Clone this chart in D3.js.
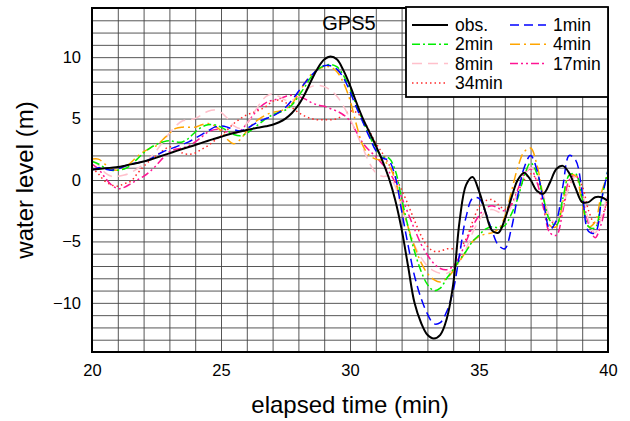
<!DOCTYPE html>
<html>
<head>
<meta charset="utf-8">
<script src="https://cdn.jsdelivr.net/npm/d3@7"></script>
<style>
  body { margin: 0; background: #fff; }
  svg text { font-family: "Liberation Sans", Arial, Helvetica, sans-serif; }
</style>
</head>
<body>
<svg id="chart" width="630" height="421"></svg>
<script>
// time grid (min), one value every 0.25 min from 20 to 40
var times = d3.range(20, 40.001, 0.25);

var obs = [
  0.85, 0.9, 0.95, 1.0, 1.05, 1.15, 1.27, 1.38, 1.5, 1.65, 1.82, 2.0, 2.17, 2.35, 2.52, 2.68,
  2.85, 3.02, 3.2, 3.36, 3.52, 3.68, 3.82, 3.95, 4.07, 4.18, 4.28, 4.38, 4.5, 4.7, 5.0, 5.45,
  6.1, 7.0, 8.1, 9.1, 9.8, 10.05, 9.8, 8.9, 7.7, 6.3, 5.0, 3.9, 2.8, 1.6, 0.2, -1.6,
  -4.0, -7.0, -10.0, -11.6, -12.6, -12.9, -12.6, -11.3, -8.5, -3.3, -0.4, 0.25, -0.9, -2.6,
  -4.1, -4.3, -3.2, -1.5, 0.0, 0.6, 0.0, -0.9, -1.1, -0.2, 0.9, 1.15, 0.55, -0.7, -1.8, -1.8,
  -1.4, -1.4, -1.7
];
var min1 = [
  0.8, 1.0, 0.9, 0.8, 0.9, 1.1, 1.3, 1.4, 1.5, 1.7, 2.0, 2.3, 2.5, 2.7, 2.9, 3.1,
  3.4, 3.7, 4.0, 4.3, 4.4, 4.3, 4.1, 4.0, 4.2, 4.5, 4.8, 5.0, 5.2, 5.5, 5.9, 6.5,
  7.2, 7.9, 8.5, 9.0, 9.3, 9.3, 9.0, 8.3, 7.2, 5.9, 4.7, 3.5, 2.4, 1.8, 1.6, 0.3,
  -2.5, -5.3, -7.8, -9.6, -10.9, -11.7, -11.6, -10.7, -9.0, -6.0, -3.0, -1.5, -1.5, -2.6,
  -4.1, -5.3, -5.6, -4.0, -1.3, 1.0, 2.0, 0.8, -1.8, -4.0, -3.3, -0.5, 2.0, 1.6, -1.0, -4.2,
  -4.3, -1.6, 0.8
];
var min2 = [
  1.5, 1.3, 1.0, 0.8, 0.8, 0.9, 1.2, 1.7, 2.2, 2.6, 2.9, 3.1, 3.2, 3.1, 3.1, 3.4,
  3.9, 4.3, 4.5, 4.5, 4.3, 4.0, 3.7, 3.6, 3.8, 4.2, 4.6, 5.0, 5.3, 5.5, 5.7, 6.1,
  6.8, 7.6, 8.4, 9.0, 9.3, 9.4, 9.2, 8.5, 7.4, 6.1, 4.8, 3.6, 2.6, 1.9, 1.8, 0.8,
  -1.5, -3.8, -5.8, -7.4, -8.5, -9.0, -8.8, -8.0, -7.3, -6.5, -5.8, -5.0, -4.5, -4.0,
  -3.8, -3.9, -3.7, -2.8, -1.5, 0.3, 1.4, 0.5, -1.5, -3.3, -3.7, -1.5, 0.4, 0.5, -1.5, -3.8,
  -3.9, -1.5, 0.8
];
var min4 = [
  1.7, 1.7, 1.3, 0.9, 0.8, 1.0, 1.4, 1.9, 2.3, 2.6, 2.8, 3.3, 3.8, 4.2, 4.3, 4.3,
  4.3, 4.5, 4.6, 4.4, 4.0, 3.3, 2.95, 3.3, 4.0, 4.6, 5.0, 5.3, 5.5, 5.6, 5.8, 6.2,
  7.0, 7.9, 8.6, 9.0, 9.2, 9.2, 8.8, 7.9, 6.5, 4.5, 2.8, 2.0, 1.7, 1.6, 1.2, 0.0,
  -2.0, -3.8, -5.4, -6.7, -7.6, -8.1, -8.3, -8.0, -7.4, -6.6, -5.8, -5.0, -4.6, -4.4,
  -4.3, -4.0, -3.0, -1.0, 1.0, 2.3, 2.6, 1.2, -1.5, -3.7, -3.8, -1.8, 0.4, 0.3, -2.0, -3.8,
  -3.4, -1.0, 0.5
];
var min8 = [
  1.6, 1.2, 0.6, 0.3, 0.3, 0.4, 0.6, 0.9, 1.3, 1.8, 2.4, 3.1, 3.8, 4.4, 4.8, 4.9,
  5.0, 5.3, 5.6, 5.7, 5.5, 5.0, 4.4, 4.2, 4.6, 5.4, 6.2, 6.8, 7.0, 6.8, 6.5, 6.5,
  6.8, 7.3, 7.6, 7.7, 7.6, 7.3, 6.8, 6.0, 5.0, 3.8, 2.6, 1.4, 0.6, 0.3, 0.3, -0.5,
  -2.2, -3.9, -5.3, -6.3, -7.0, -7.4, -7.6, -7.6, -7.3, -6.6, -5.6, -4.3, -3.3, -2.6,
  -2.4, -2.6, -2.8, -2.2, -1.0, 0.3, 1.0, 0.5, -1.2, -3.0, -3.5, -2.2, -0.5, 0.3, -1.0, -3.3,
  -4.3, -3.0, -1.0
];
var min17 = [
  1.3, 0.9, 0.2, -0.4, -0.7, -0.6, -0.3, 0.0, 0.3, 0.7, 1.2, 1.8, 2.3, 2.5, 2.6, 2.8,
  3.1, 3.5, 3.9, 4.1, 4.1, 3.9, 3.8, 4.0, 4.6, 5.3, 5.9, 6.3, 6.5, 6.6, 6.8, 6.9,
  6.8, 6.6, 6.3, 6.1, 6.0, 5.8, 5.6, 5.3, 4.8, 3.9, 3.0, 2.4, 1.9, 1.3, 0.7, -0.2,
  -1.4, -2.7, -4.0, -5.2, -6.1, -6.8, -7.2, -7.3, -7.0, -6.2, -5.0, -3.8, -2.9, -2.3,
  -2.1, -2.3, -2.5, -2.0, -0.8, 0.5, 0.9, -0.2, -2.3, -4.3, -4.5, -2.5, 0.0, 0.4, -1.2, -3.6,
  -4.7, -3.5, -1.2
];
var min34 = [
  1.0, 0.5, -0.1, -0.4, -0.5, -0.3, -0.1, 0.5, 1.1, 1.6, 2.0, 2.4, 2.7, 2.6, 2.2, 2.1,
  2.2, 2.5, 2.8, 3.2, 3.6, 4.1, 4.6, 5.0, 5.3, 5.5, 5.7, 6.0, 6.4, 6.5, 6.3, 5.9,
  5.5, 5.2, 5.0, 4.9, 4.9, 4.9, 5.0, 5.3, 5.6, 5.5, 4.9, 4.0, 3.0, 2.2, 1.3, 0.3,
  -0.8, -2.0, -3.3, -4.5, -5.4, -5.8, -5.8, -5.6, -5.6, -5.5, -4.8, -3.4, -2.2, -1.7,
  -1.6, -2.0, -2.4, -2.0, -1.0, 0.0, 0.5, 0.0, -1.5, -3.2, -3.6, -2.3, -0.5, 0.3, -0.5, -2.5,
  -3.6, -3.0, -1.5
];

var xTicks = [20, 25, 30, 35, 40];
var yTicks = [-10, -5, 0, 5, 10];

var series = [
  { name: "obs.",  values: obs,   color: "#000000", dash: null,            width: 2 },
  { name: "1min",  values: min1,  color: "#0000ff", dash: "9,5",           width: 1.5 },
  { name: "2min",  values: min2,  color: "#00ee00", dash: "8,3,2,3",       width: 1.5 },
  { name: "4min",  values: min4,  color: "#ffa500", dash: "10,4,2,4",      width: 1.5 },
  { name: "8min",  values: min8,  color: "#ffc0cb", dash: "10,6",          width: 1.5 },
  { name: "17min", values: min17, color: "#ff1493", dash: "8,3,2,3,2,3",   width: 1.5 },
  { name: "34min", values: min34, color: "#ff2a2a", dash: "1.5,3",         width: 1.5 }
];

var svg = d3.select("#chart");

var margin = { top: 8, right: 22, bottom: 69, left: 92 };
var width = 630 - margin.left - margin.right;
var height = 421 - margin.top - margin.bottom;

var x = d3.scaleLinear().domain([20, 40]).range([0, width]);
var y = d3.scaleLinear().domain([-14, 14]).range([height, 0]);

var plot = svg.append("g")
  .attr("transform", "translate(" + margin.left + "," + margin.top + ")");

plot.append("clipPath").attr("id", "clip")
  .append("rect").attr("width", width).attr("height", height);

// grid, one line per minute and per metre
var xGrid = d3.axisBottom(x).tickValues(d3.range(21, 40)).tickSize(-height).tickFormat("");
var yGrid = d3.axisLeft(y).tickValues(d3.range(-13, 14)).tickSize(-width).tickFormat("");

plot.append("g").attr("class", "grid")
  .attr("transform", "translate(0," + height + ")")
  .call(xGrid);
plot.append("g").attr("class", "grid").call(yGrid);
plot.selectAll(".grid .domain").remove();
plot.selectAll(".grid line").attr("stroke", "#444").attr("stroke-width", 0.9);

// lines
var line = d3.line()
  .x((d, i) => x(times[i]))
  .y((d) => y(d))
  .curve(d3.curveCatmullRom.alpha(0.5));

var lines = plot.append("g").attr("clip-path", "url(#clip)");
series.slice().reverse().forEach((s) => {
  lines.append("path")
    .datum(s.values)
    .attr("d", line)
    .attr("fill", "none")
    .attr("stroke", s.color)
    .attr("stroke-width", s.width)
    .attr("stroke-dasharray", s.dash)
    .attr("stroke-linejoin", "round");
});

// axes
var xAxis = d3.axisBottom(x).tickValues(xTicks).tickSize(0).tickPadding(12);
var yAxis = d3.axisLeft(y).tickValues(yTicks).tickSize(0).tickPadding(11)
  .tickFormat((d) => d < 0 ? "\u2212" + Math.abs(d) : d);

var xg = plot.append("g").attr("transform", "translate(0," + height + ")").call(xAxis);
var yg = plot.append("g").call(yAxis);
xg.select(".domain").remove();
yg.select(".domain").remove();
xg.selectAll("text").style("font-size", "16.5px").attr("fill", "#000")
  .style("font-family", "'Liberation Sans', Arial, sans-serif");
yg.selectAll("text").style("font-size", "16.5px").attr("fill", "#000")
  .style("font-family", "'Liberation Sans', Arial, sans-serif");

plot.append("rect")
  .attr("width", width).attr("height", height)
  .attr("fill", "none").attr("stroke", "#000").attr("stroke-width", 2);

// title
plot.append("text")
  .text("GPS5")
  .attr("x", width / 2 - 1)
  .attr("y", 22)
  .attr("text-anchor", "middle")
  .style("font-size", "20px");

// legend
var legend = svg.append("g");
legend.append("rect")
  .attr("x", 406).attr("y", 7)
  .attr("width", 202).attr("height", 90)
  .attr("fill", "#fff").attr("stroke", "#000").attr("stroke-width", 1.8);

series.forEach((s, i) => {
  let col = i % 2;
  let row = Math.floor(i / 2);
  let lx = col === 0 ? 412 : 510;
  let ly = 25 + row * 19.3;
  legend.append("line")
    .attr("x1", lx).attr("x2", lx + 36)
    .attr("y1", ly).attr("y2", ly)
    .attr("stroke", s.color)
    .attr("stroke-width", s.width === 2 ? 1.8 : 1.5)
    .attr("stroke-dasharray", s.dash);
  legend.append("text")
    .text(s.name)
    .attr("x", lx + 43)
    .attr("y", ly + 6)
    .style("font-size", "17.5px");
});

// axis titles
svg.append("text")
  .text("elapsed time (min)")
  .attr("x", margin.left + width / 2)
  .attr("y", 413)
  .attr("text-anchor", "middle")
  .style("font-size", "24px");

svg.append("text")
  .text("water level (m)")
  .attr("transform", "translate(33," + (margin.top + height / 2) + ") rotate(-90)")
  .attr("text-anchor", "middle")
  .style("font-size", "24px");
</script>
</body>
</html>
